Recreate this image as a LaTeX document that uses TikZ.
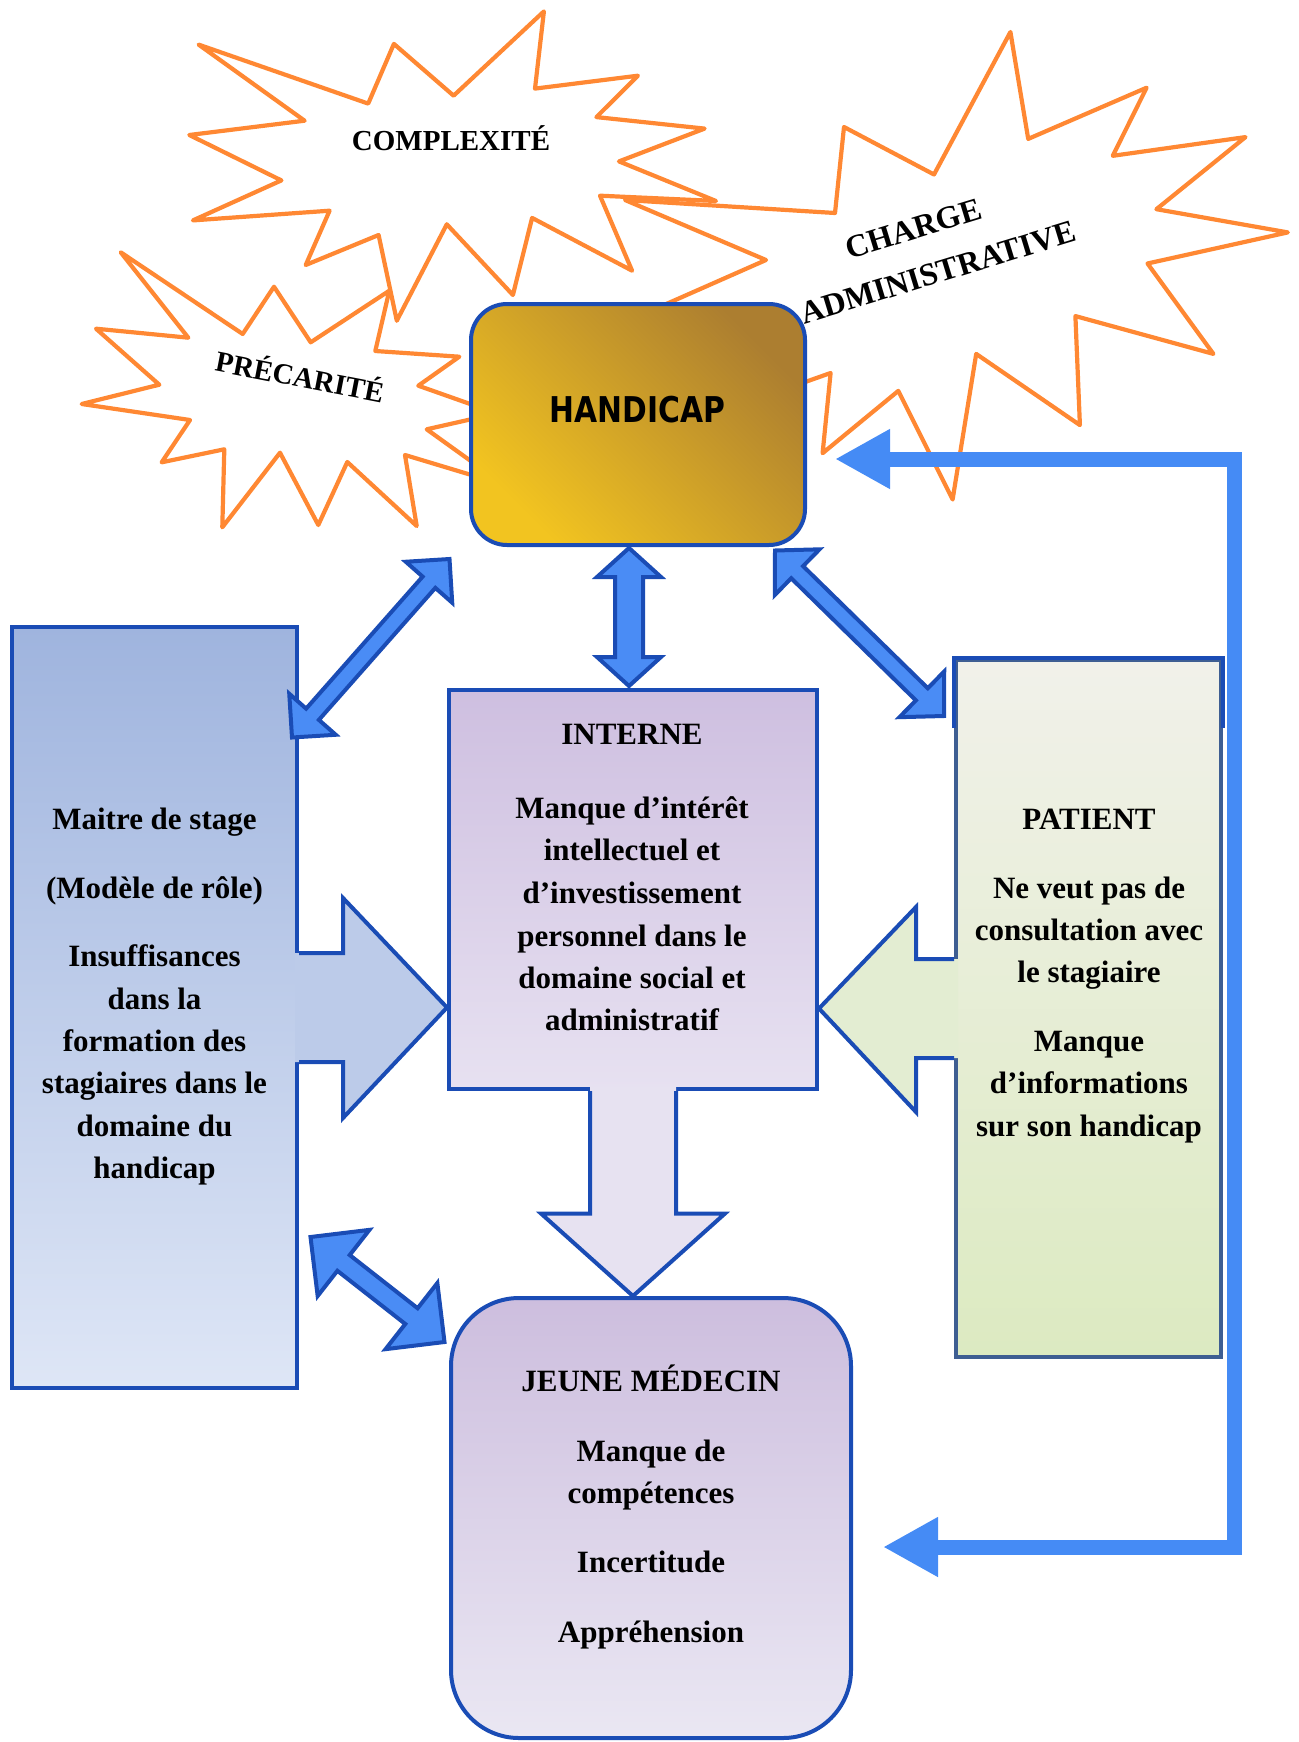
\documentclass[tikz,border=0pt]{standalone}
\usepackage{fontspec}
\setmainfont{Liberation Serif}
\newfontfamily\hfont{DejaVu Sans}
\usetikzlibrary{calc,arrows.meta}

\definecolor{starorange}{HTML}{FF8833}
\definecolor{bordblue}{HTML}{1A4CB5}
\definecolor{arrblue}{HTML}{4A8CF5}
\definecolor{fbblue}{HTML}{458BF5}
\definecolor{slate}{HTML}{3E5E92}
\definecolor{hTop}{HTML}{AC7E30}
\definecolor{hMid}{HTML}{E2A72A}
\definecolor{hBot}{HTML}{F2C420}
\definecolor{lTop}{HTML}{9FB4DE}
\definecolor{lMid}{HTML}{BCCBE9}
\definecolor{lBot}{HTML}{DEE6F6}
\definecolor{iTop}{HTML}{CEBFE0}
\definecolor{iBot}{HTML}{E7E1F1}
\definecolor{iArr}{HTML}{E7E2F1}
\definecolor{pTop}{HTML}{F1F1EA}
\definecolor{pMid}{HTML}{EAF2DA}
\definecolor{pBot}{HTML}{DCEAC1}
\definecolor{pArr}{HTML}{E3EDD2}
\definecolor{jTop}{HTML}{CDBEDE}
\definecolor{jBot}{HTML}{EAE7F3}

\newcommand\starApath{(198.6,44.6) -- (368.2,103.6) -- (393.9,43.9) -- (453.6,95.7) -- (543.9,11.4) -- (535,88.6) -- (637.9,75.7) -- (596.4,117.1) -- (704.6,128.6) -- (619,161.4) -- (716,201) -- (600,195.7) -- (632.1,270.7) -- (532.1,217.9) -- (512.9,295) -- (446.8,224.3) -- (396.8,320.7) -- (378.6,235) -- (305.7,265) -- (329.6,210.7) -- (192.9,220.4) -- (281.4,180.4) -- (189.3,135) -- (304.6,120.7) -- cycle}
\newcommand\starPpath{(120.7,252.3) -- (242.7,334) -- (274,286.7) -- (310.7,342.3) -- (389.3,290.7) -- (375.3,351) -- (459.3,356.7) -- (418.3,385.7) -- (490,411) -- (490,415) -- (426.7,429.3) -- (490,474.8) -- (490,480.6) -- (405,455) -- (416.7,526) -- (347.3,462) -- (318.3,525) -- (280,452.7) -- (222.3,527.3) -- (224.3,449.3) -- (161.7,462.3) -- (190,420) -- (81.7,404) -- (159.3,384.7) -- (96,328.7) -- (188.3,337.7) -- cycle}
\newcommand\starBpath{(625,200) -- (835,213) -- (844,127) -- (934,174.5) -- (1010.4,32) -- (1028.2,138.9) -- (1146.6,87.7) -- (1112.8,155.8) -- (1245.5,137.1) -- (1156.4,209.2) -- (1287.8,232.4) -- (1147.5,263.5) -- (1213.4,353.9) -- (1075.4,316.1) -- (1079.9,425.1) -- (976.2,353.9) -- (952.6,499.5) -- (898.3,390.9) -- (822.6,453.2) -- (830.6,373) -- (760,398) -- (630,320) -- (766,260) -- cycle}

\newcommand\dblarr[5]{%
  \coordinate (#1-h) at ($(#1)!#3!(#2)$);
  \coordinate (#2-h) at ($(#2)!#3!(#1)$);
  \draw[blockarr] (#1) -- ($(#1-h)!#4!90:(#2)$) -- ($(#1-h)!#5!90:(#2)$)
    -- ($(#2-h)!#5!90:(#2)$) -- ($(#2-h)!#4!90:(#2)$) -- (#2)
    -- ($(#2-h)!#4!-90:(#2)$) -- ($(#2-h)!#5!-90:(#2)$)
    -- ($(#1-h)!#5!-90:(#2)$) -- ($(#1-h)!#4!-90:(#2)$) -- cycle;}

\begin{document}
\begin{tikzpicture}[x=1pt,y=-1pt,
  starfill/.style={fill=white},
  starline/.style={draw=starorange,line width=4.2pt,line join=round},
  txt/.style={font=\fontsize{31}{42}\selectfont\bfseries,anchor=base,inner sep=0pt},
  startxt/.style={font=\fontsize{29}{36}\selectfont\bfseries,anchor=base,inner sep=0pt},
  box/.style={draw=bordblue,line width=4pt,inner sep=0pt},
  blockarr/.style={draw=bordblue,fill=arrblue,line width=4pt,line join=miter},
  arrline/.style={draw=bordblue,line width=4pt,line join=miter},
  fb/.style={draw=fbblue,line width=15pt,line join=miter,
    arrows={Triangle[length=55pt,width=56pt]-Triangle[length=55pt,width=56pt]}},
]
\useasboundingbox (0,0) rectangle (1298,1742);

% starbursts
\path[starfill] \starPpath;
\path[starfill] \starApath;
\path[starfill] \starBpath;
\path[starline] \starPpath;
\path[starline] \starApath;
\path[starline] \starBpath;

% HANDICAP box
\node[box, rounded corners=36pt, minimum width=334pt, minimum height=241pt,
  top color=hTop, middle color=hMid, bottom color=hBot, shading angle=-45] (handicap) at (638,424.5) {};
\node[font=\hfont\bfseries\fontsize{35.5}{40}\selectfont, xscale=0.84, inner sep=0pt] (htxt) at (637.5,409.7) {HANDICAP};

% feedback connector
\coordinate (fbA) at ($(handicap.east)+(28,34.5)$);
\coordinate (fbB) at (883,1547);
\draw[fb] (fbB) -- ++(351,0) |- (fbA);

% boxes
\node[box, minimum width=285pt, minimum height=761pt, top color=lTop, bottom color=lBot] (maitre) at (154.5,1007.5) {};
\node[box, minimum width=368pt, minimum height=399pt, top color=iTop, bottom color=iBot] (interne) at (633,889.5) {};
\node[box, draw=slate, minimum width=265pt, minimum height=697pt, top color=pTop, middle color=pMid, bottom color=pBot] (patient) at (1088.5,1008.5) {};
\draw[arrline] ($(patient.north west)+(0,70)$) -- (patient.north west) -- (patient.north east) -- ($(patient.north east)+(0,70)$);
\node[box, rounded corners=68pt, minimum width=400pt, minimum height=440pt, top color=jTop, bottom color=jBot] (jeune) at (651,1518) {};

% merging block arrows
\fill[lMid] ($(maitre.east)+(-4,-54.5)$) -- ($(maitre.east)+(44,-54.5)$) -- ($(maitre.east)+(44,-109.5)$)
  -- (interne.west |- maitre.east) -- ($(maitre.east)+(44,110.5)$) -- ($(maitre.east)+(44,54.5)$) -- ($(maitre.east)+(-4,54.5)$) -- cycle;
\draw[arrline] ($(maitre.east)+(0,-54.5)$) -- ($(maitre.east)+(44,-54.5)$) -- ($(maitre.east)+(44,-109.5)$)
  -- (interne.west |- maitre.east) -- ($(maitre.east)+(44,110.5)$) -- ($(maitre.east)+(44,54.5)$) -- ($(maitre.east)+(0,54.5)$);

\fill[pArr] ($(patient.west)+(4,-49.5)$) -- ($(patient.west)+(-38,-49.5)$) -- ($(patient.west)+(-38,-101.5)$)
  -- (interne.east |- patient.west) -- ($(patient.west)+(-38,103.5)$) -- ($(patient.west)+(-38,49.5)$) -- ($(patient.west)+(4,49.5)$) -- cycle;
\draw[arrline] ($(patient.west)+(0,-49.5)$) -- ($(patient.west)+(-38,-49.5)$) -- ($(patient.west)+(-38,-101.5)$)
  -- (interne.east |- patient.west) -- ($(patient.west)+(-38,103.5)$) -- ($(patient.west)+(-38,49.5)$) -- ($(patient.west)+(0,49.5)$);

\fill[iArr] ($(interne.south)+(-43,-4)$) -- ($(interne.south)+(-43,122.5)$) -- ($(interne.south)+(-92,122.5)$)
  -- (interne.south |- jeune.north) -- ($(interne.south)+(92,122.5)$) -- ($(interne.south)+(43,122.5)$) -- ($(interne.south)+(43,-4)$) -- cycle;
\draw[arrline] ($(interne.south)+(-43,0)$) -- ($(interne.south)+(-43,122.5)$) -- ($(interne.south)+(-92,122.5)$)
  -- (interne.south |- jeune.north) -- ($(interne.south)+(92,122.5)$) -- ($(interne.south)+(43,122.5)$) -- ($(interne.south)+(43,0)$);

% double block arrows
\coordinate (a1) at (629,548);
\coordinate (a2) at (629,686);
\dblarr{a1}{a2}{29pt}{32pt}{14pt}
\coordinate (b1) at (449.5,559);
\coordinate (b2) at (292,737.5);
\dblarr{b1}{b2}{31pt}{31pt}{8.5pt}
\coordinate (c1) at (775,550.5);
\coordinate (c2) at (944,716);
\dblarr{c1}{c2}{31pt}{32pt}{8.5pt}
\coordinate (d1) at (310.5,1237);
\coordinate (d2) at (444.5,1342);
\dblarr{d1}{d2}{42pt}{42pt}{10pt}

% star texts
\node[startxt] (tcomp) at (451,150) {COMPLEXITÉ};
\node[startxt, rotate=-11] (tprec) at (298,387) {PRÉCARITÉ};
\node[font=\fontsize{32}{49}\selectfont\bfseries, inner sep=0pt, align=center, rotate=17] (tcharge) at (931,249) {CHARGE\rule{22pt}{0pt}\\ADMINISTRATIVE};

% box texts
\foreach \t/\y [count=\i] in {{Maitre de stage}/829, {(Modèle de rôle)}/898, {Insuffisances}/966, {dans la}/1009, {formation des}/1051, {stagiaires dans le}/1093.5, {domaine du}/1136, {handicap}/1178}
  \node[txt] (ms\i) at (154.5,\y) {\t};

\node[txt] (int0) at (632,744) {INTERNE};
\foreach \t/\y [count=\i] in {{Manque d’intérêt}/818, {intellectuel et}/860, {d’investissement}/903.5, {personnel dans le}/946, {domaine social et}/988, {administratif}/1030}
  \node[txt] (int\i) at (632,\y) {\t};

\foreach \t/\y [count=\i] in {{PATIENT}/829, {Ne veut pas de}/898, {consultation avec}/940, {le stagiaire}/982, {Manque}/1051, {d’informations}/1093.5, {sur son handicap}/1136}
  \node[txt] (pat\i) at (1089,\y) {\t};

\foreach \t/\y [count=\i] in {{JEUNE MÉDECIN}/1391, {Manque de}/1461, {compétences}/1503.5, {Incertitude}/1572.5, {Appréhension}/1642}
  \node[txt] (jm\i) at (651,\y) {\t};
\end{tikzpicture}
\end{document}
